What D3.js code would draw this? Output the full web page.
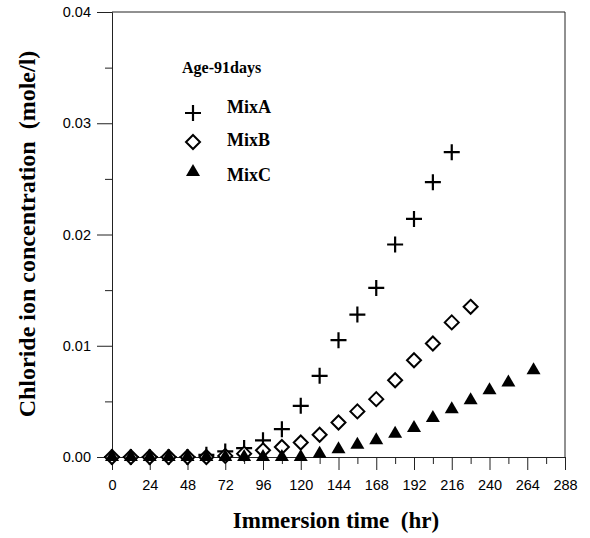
<!DOCTYPE html>
<html>
<head>
<meta charset="utf-8">
<script src="https://cdn.jsdelivr.net/npm/d3@7"></script>
<style>
  body { margin: 0; background: #fff; }
  .tick text { font-family: "Liberation Sans", Arial, sans-serif; font-size: 14.5px; fill: #000; }
  .tick line, .domain { stroke: #222; }
  .title { font-family: "Liberation Serif", "Times New Roman", serif; font-weight: bold; fill: #000; }
</style>
</head>
<body>
<div id="chart"></div>
<script>
const hoursA = [0, 12, 24, 36, 48, 60, 72, 84, 96, 108, 120, 132, 144, 156, 168, 180, 192, 204, 216];
const mixA = [0, 0, 0, 0, 0, 0.0002, 0.0005, 0.0008, 0.0015, 0.0025, 0.0046, 0.0073, 0.0105, 0.0128, 0.0152, 0.0191, 0.0214, 0.0247, 0.0274];

const hoursB = [0, 12, 24, 36, 48, 60, 72, 84, 96, 108, 120, 132, 144, 156, 168, 180, 192, 204, 216, 228];
const mixB = [0, 0, 0, 0, 0, 0, 0.0001, 0.0003, 0.0006, 0.0009, 0.0013, 0.0020, 0.0031, 0.0041, 0.0052, 0.0069, 0.0087, 0.0102, 0.0121, 0.0135];

const hoursC = [0, 12, 24, 36, 48, 60, 72, 84, 96, 108, 120, 132, 144, 156, 168, 180, 192, 204, 216, 228, 240, 252, 268];
const mixC = [0, 0, 0, 0, 0, 0, 0, 0, 0, 0, 0, 0.0003, 0.0007, 0.0011, 0.0015, 0.0021, 0.0026, 0.0035, 0.0043, 0.0051, 0.0060, 0.0067, 0.0078];

const xTicks = [0, 24, 48, 72, 96, 120, 144, 168, 192, 216, 240, 264, 288];
const xMinor = [12, 36, 60, 84, 108, 132, 156, 180, 204, 228, 252, 276];
const yTicks = [0, 0.01, 0.02, 0.03, 0.04];
const yMinor = [0.005, 0.015, 0.025, 0.035];

const seriesNames = ["MixA", "MixB", "MixC"];
const legendTitle = "Age-91days";

const width = 590;
const height = 538;

const svg = d3.select("#chart").append("svg")
  .attr("width", width)
  .attr("height", height);

const x = d3.scaleLinear().domain([0, 288]).range([112, 565]);
const y = d3.scaleLinear().domain([0, 0.04]).range([457, 12]);

// marker shapes
const shapes = {
  MixA: { d: "M-8,0H8M0,-8V8", fill: "none", stroke: "#000", sw: 2.2 },
  MixB: { d: "M0,-7L7,0L0,7L-7,0Z", fill: "#fff", stroke: "#000", sw: 2 },
  MixC: { d: "M0,-8L7,4L-7,4Z", fill: "#000", stroke: "none", sw: 0 }
};

// frame top + right
svg.append("line")
  .attr("x1", x(0)).attr("x2", x(288))
  .attr("y1", y(0.04)).attr("y2", y(0.04))
  .attr("stroke", "#222");
svg.append("line")
  .attr("x1", x(288)).attr("x2", x(288))
  .attr("y1", y(0.04)).attr("y2", y(0))
  .attr("stroke", "#222");

// axes
svg.append("g")
  .attr("transform", `translate(0,${y(0)})`)
  .call(d3.axisBottom(x).tickValues(xMinor).tickSize(7).tickSizeOuter(0).tickFormat(""));
svg.append("g")
  .attr("transform", `translate(0,${y(0)})`)
  .call(d3.axisBottom(x).tickValues(xTicks).tickSize(13).tickPadding(10).tickSizeOuter(0));

svg.append("g")
  .attr("transform", `translate(${x(0)},0)`)
  .call(d3.axisLeft(y).tickValues(yMinor).tickSize(7).tickSizeOuter(0).tickFormat(""));
svg.append("g")
  .attr("transform", `translate(${x(0)},0)`)
  .call(d3.axisLeft(y).tickValues(yTicks).tickSize(15).tickPadding(6).tickSizeOuter(0).tickFormat(d3.format(".2f")));

// data
const series = [
  { name: "MixA", hours: hoursA, values: mixA },
  { name: "MixB", hours: hoursB, values: mixB },
  { name: "MixC", hours: hoursC, values: mixC }
];

series.forEach(s => {
  const shape = shapes[s.name];
  svg.append("g").selectAll("path")
    .data(s.hours.map((h, i) => ({ h: h, v: s.values[i] })))
    .enter()
    .append("path")
    .attr("transform", d => `translate(${x(d.h)},${y(d.v)})`)
    .attr("d", shape.d)
    .attr("fill", shape.fill)
    .attr("stroke", shape.stroke)
    .attr("stroke-width", shape.sw);
});

// legend
svg.append("text")
  .attr("class", "title")
  .attr("x", 182)
  .attr("y", 73)
  .style("font-size", "16px")
  .text(legendTitle);

const legendY = [113, 142, 172];
const legendTextY = [113, 146, 181];
seriesNames.forEach((name, i) => {
  const shape = shapes[name];
  svg.append("path")
    .attr("transform", `translate(193,${legendY[i]})`)
    .attr("d", shape.d)
    .attr("fill", shape.fill)
    .attr("stroke", shape.stroke)
    .attr("stroke-width", shape.sw);
  svg.append("text")
    .attr("class", "title")
    .attr("x", 227)
    .attr("y", legendTextY[i])
    .style("font-size", "18px")
    .text(name);
});

// axis titles
svg.append("text")
  .attr("class", "title")
  .attr("x", 336)
  .attr("y", 528)
  .attr("text-anchor", "middle")
  .style("font-size", "23px")
  .style("white-space", "pre")
  .text("Immersion time  (hr)");

svg.append("text")
  .attr("class", "title")
  .attr("transform", "translate(35,234) rotate(-90)")
  .attr("text-anchor", "middle")
  .style("font-size", "24px")
  .style("white-space", "pre")
  .text("Chloride ion concentration  (mole/l)");
</script>
</body>
</html>
